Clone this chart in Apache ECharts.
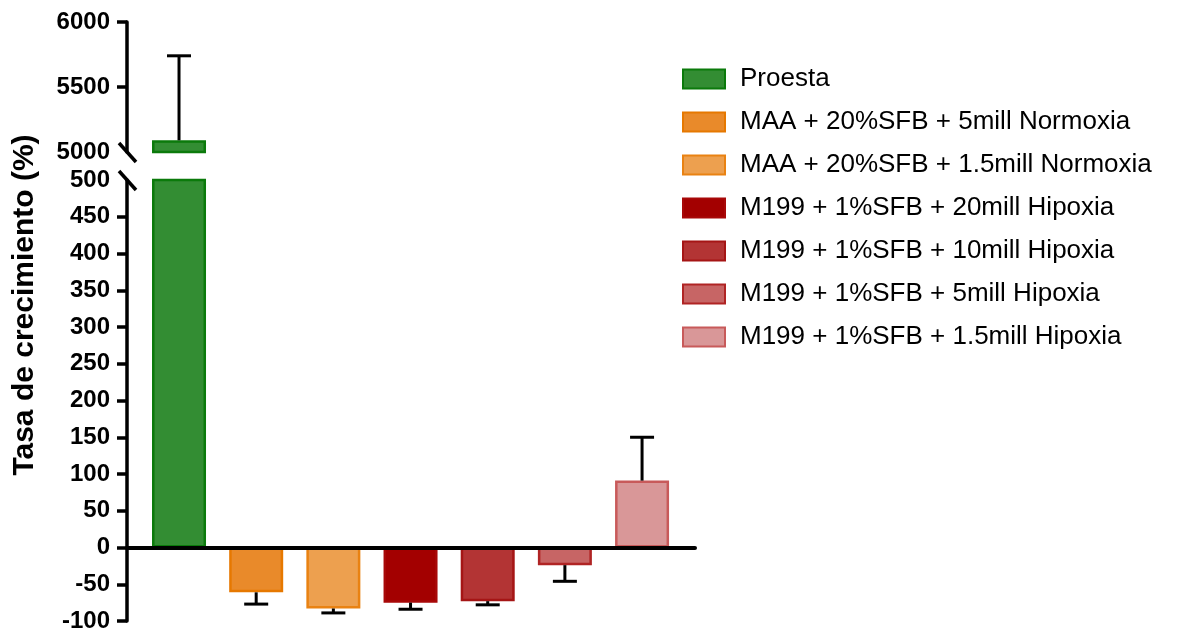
<!DOCTYPE html>
<html>
<head>
<meta charset="utf-8">
<script src="https://cdn.jsdelivr.net/npm/echarts@6/dist/echarts.min.js"></script>
<style>
  html, body { margin: 0; padding: 0; background: #fff; }
  #chart { width: 1194px; height: 633px; }
</style>
</head>
<body>
<div id="chart"></div>
<script>
// data
const groups = [
  'Proesta',
  'MAA + 20%SFB + 5mill Normoxia',
  'MAA + 20%SFB + 1.5mill Normoxia',
  'M199 + 1%SFB + 20mill Hipoxia',
  'M199 + 1%SFB + 10mill Hipoxia',
  'M199 + 1%SFB + 5mill Hipoxia',
  'M199 + 1%SFB + 1.5mill Hipoxia'
];
const means = [5090, -61, -83, -75, -73, -24, 91];
const sds = [650, 16, 6, 9, 5, 22, 59];

// broken y axis: two segments
const lowerTicks = [-100, -50, 0, 50, 100, 150, 200, 250, 300, 350, 400, 450];
const upperTicks = [5500, 6000];

const fills = ['#338d33', '#e98a2a', '#eda04f', '#a30000', '#b33434', '#c76565', '#d99798'];
const borders = ['#0b7a0b', '#e67800', '#e98212', '#a80808', '#a51515', '#b02424', '#c85a5a'];

const FONT = '"Liberation Sans", Arial, sans-serif';
const X_MIN = -0.674, X_MAX = 6.686;
const LOWER_MAX = 500, UPPER_MIN = 5000;

const chart = echarts.init(document.getElementById('chart'));

function renderErr(params, api) {
  const x = api.value(0);
  const a = api.coord([x, api.value(1)]);
  const b = api.coord([x, api.value(2)]);
  const half = 12;
  const style = {stroke: '#000', lineWidth: 3};
  return {
    type: 'group',
    children: [
      {type: 'line', shape: {x1: a[0], y1: a[1], x2: b[0], y2: b[1]}, style},
      {type: 'line', shape: {x1: b[0] - half, y1: b[1], x2: b[0] + half, y2: b[1]}, style}
    ]
  };
}

const errData = means.map((m, i) => [i, m, m + Math.sign(m) * sds[i]]);

const axisLineStyle = {color: '#000', width: 3.5};
const yLabel = {
  color: '#000', fontSize: 24, fontWeight: 'bold', fontFamily: FONT, margin: 17,
  formatter: v => String(v)
};

const series = [];
groups.forEach((name, i) => {
  series.push({
    name,
    type: 'bar',
    xAxisIndex: 1,
    yAxisIndex: 1,
    barWidth: 54,
    barGap: '-100%',
    itemStyle: {color: fills[i], borderColor: borders[i], borderWidth: 2.5},
    data: [[i, means[i]]]
  });
});
// top part of the bars that go past the break
groups.forEach((name, i) => {
  if (means[i] <= LOWER_MAX) return;
  series.push({
    name,
    type: 'bar',
    xAxisIndex: 0,
    yAxisIndex: 0,
    barWidth: 54,
    barGap: '-100%',
    itemStyle: {color: fills[i], borderColor: borders[i], borderWidth: 2.5},
    data: [[i, means[i]]]
  });
});
series.push({
  type: 'custom',
  xAxisIndex: 0,
  yAxisIndex: 0,
  z: 5,
  renderItem: renderErr,
  data: errData.filter(d => d[1] > LOWER_MAX)
});
series.push({
  type: 'custom',
  xAxisIndex: 1,
  yAxisIndex: 1,
  z: 5,
  renderItem: renderErr,
  data: errData.filter(d => d[1] <= LOWER_MAX)
});

chart.setOption({
  animation: false,
  textStyle: {fontFamily: FONT},
  grid: [
    {left: 127, width: 568, top: 22, height: 130},
    {left: 127, width: 568, top: 180, height: 442}
  ],
  legend: {
    data: groups,
    orient: 'vertical',
    left: 677,
    top: 61,
    itemWidth: 42,
    itemHeight: 19,
    itemGap: 17,
    selectedMode: false,
    icon: 'rect',
    textStyle: {color: '#000', fontSize: 26, lineHeight: 26, fontFamily: FONT, padding: [0, 0, 0, 10]}
  },
  xAxis: [
    {gridIndex: 0, type: 'value', min: X_MIN, max: X_MAX, show: false},
    {
      gridIndex: 1, type: 'value', min: X_MIN, max: X_MAX, z: 6,
      axisLine: {show: true, onZero: true, lineStyle: {color: '#000', width: 4}},
      axisTick: {show: false},
      axisLabel: {show: false},
      splitLine: {show: false}
    }
  ],
  yAxis: [
    {
      gridIndex: 0, type: 'value', min: UPPER_MIN, max: 6000, interval: 500,
      axisLine: {show: true, onZero: false, lineStyle: axisLineStyle},
      axisTick: {show: true, length: 10, lineStyle: axisLineStyle, customValues: upperTicks},
      axisLabel: yLabel,
      splitLine: {show: false}
    },
    {
      gridIndex: 1, type: 'value', min: -100, max: LOWER_MAX, interval: 50,
      axisLine: {show: true, onZero: false, lineStyle: axisLineStyle},
      axisTick: {show: true, length: 10, lineStyle: axisLineStyle, customValues: lowerTicks},
      axisLabel: yLabel,
      splitLine: {show: false}
    }
  ],
  series
});

// break marks on the y axis and the axis title
const pUp = chart.convertToPixel({xAxisIndex: 0, yAxisIndex: 0}, [X_MIN, UPPER_MIN]);
const pLo = chart.convertToPixel({xAxisIndex: 1, yAxisIndex: 1}, [X_MIN, LOWER_MAX]);
const slash = (p) => ({
  type: 'line',
  shape: {x1: p[0] - 8, y1: p[1] - 9, x2: p[0] + 9, y2: p[1] + 10},
  style: {stroke: '#000', lineWidth: 3.5},
  z: 10
});
chart.setOption({
  graphic: [
    slash(pUp),
    slash(pLo),
    {
      type: 'text',
      x: 25,
      y: 305,
      rotation: Math.PI / 2,
      style: {
        text: 'Tasa de crecimiento (%)',
        fill: '#000',
        font: 'bold 30px ' + FONT,
        align: 'center',
        verticalAlign: 'middle'
      }
    }
  ]
});
</script>
</body>
</html>
